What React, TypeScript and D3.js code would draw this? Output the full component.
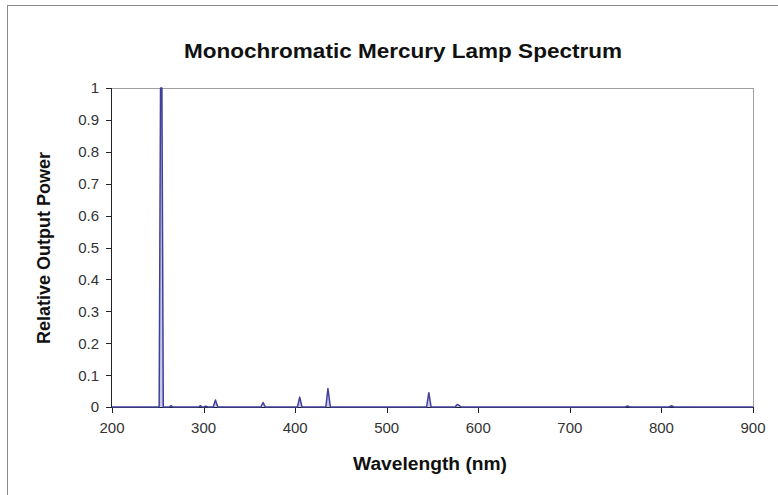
import React, { useMemo } from 'react';
import * as d3 from 'd3';

// Spectrum samples (nm, relative power)
const wavelengths = [
  200, 251.5, 253, 254.5, 256, 262.5, 264.5, 266.5, 294.5, 296.5, 298.5, 300.5, 302.5, 304.5,
  310.5, 313, 315.5, 362.5, 365, 367.5, 402.5, 405, 407.5, 433.5, 435.8, 438.5,
  543.5, 546, 548.5, 574.5, 577, 579, 581.5, 760.5, 763, 765.5, 808.5, 811, 813.5, 900,
];
const power = [
  0, 0, 1, 1, 0, 0, 0.004, 0, 0, 0.004, 0, 0, 0.003, 0,
  0, 0.022, 0, 0, 0.014, 0, 0, 0.031, 0, 0, 0.058, 0,
  0, 0.045, 0, 0, 0.008, 0.005, 0, 0, 0.003, 0, 0, 0.004, 0, 0,
];

const xTicks = [200, 300, 400, 500, 600, 700, 800, 900];
const yTicks = [0, 0.1, 0.2, 0.3, 0.4, 0.5, 0.6, 0.7, 0.8, 0.9, 1];

const title = 'Monochromatic Mercury Lamp Spectrum';
const xLabel = 'Wavelength (nm)';
const yLabel = 'Relative Output Power';

const W = 778;
const H = 495;
const plot = { left: 112, right: 753, top: 88, bottom: 407 };
const font = '"Liberation Sans", Arial, sans-serif';

const App: React.FC = () => {
  const x = d3.scaleLinear().domain([200, 900]).range([plot.left, plot.right]);
  const y = d3.scaleLinear().domain([0, 1]).range([plot.bottom, plot.top]);

  const path = useMemo(() => {
    const pts = wavelengths.map((w, i) => [w, power[i]] as [number, number]);
    return d3.line<[number, number]>()
      .x(d => x(d[0]))
      .y(d => y(d[1]))(pts) || undefined;
  }, []);

  return (
    <div style={{ position: 'absolute', left: 0, top: 0 }}>
      <svg width={W} height={H} style={{ display: 'block', background: '#fff' }}>
        {/* outer frame */}
        <rect x={7.5} y={5.5} width={900} height={700} fill="none" stroke="#8a8a8a" strokeWidth={1} />

        <text x={403} y={58} textAnchor="middle" fontFamily={font} fontWeight="bold" fontSize={21}
          textLength={438} lengthAdjust="spacingAndGlyphs" fill="#111">
          {title}
        </text>

        {/* plot frame top / right */}
        <line x1={plot.left} x2={plot.right} y1={plot.top + 0.5} y2={plot.top + 0.5} stroke="#a0a0a0" />
        <line x1={plot.right + 0.5} x2={plot.right + 0.5} y1={plot.top} y2={plot.bottom} stroke="#a0a0a0" />

        {/* y axis */}
        <line x1={plot.left - 0.5} x2={plot.left - 0.5} y1={plot.top} y2={plot.bottom} stroke="#222" />
        {yTicks.map(t => (
          <g key={t}>
            <line x1={plot.left - 6} x2={plot.left} y1={Math.round(y(t)) + 0.5} y2={Math.round(y(t)) + 0.5} stroke="#222" />
            <text x={plot.left - 13} y={y(t)} dy="0.36em" textAnchor="end" fontFamily={font} fontSize={15} fill="#333">
              {t}
            </text>
          </g>
        ))}

        {/* x axis */}
        <line x1={plot.left} x2={plot.right} y1={plot.bottom + 0.5} y2={plot.bottom + 0.5} stroke="#222" />
        {xTicks.map(t => (
          <g key={t}>
            <line x1={Math.round(x(t)) + 0.5} x2={Math.round(x(t)) + 0.5} y1={plot.bottom} y2={plot.bottom + 6} stroke="#222" />
            <text x={x(t)} y={plot.bottom + 26} textAnchor="middle" fontFamily={font} fontSize={15} fill="#333">
              {t}
            </text>
          </g>
        ))}

        <path d={path} fill="#c8c8e8" stroke="#40409c" strokeWidth={1.5} strokeLinejoin="round" />

        <text x={430} y={470} textAnchor="middle" fontFamily={font} fontWeight="bold" fontSize={18}
          textLength={154} lengthAdjust="spacingAndGlyphs" fill="#111">
          {xLabel}
        </text>
        <text
          transform={`translate(50, 248) rotate(-90)`}
          textAnchor="middle"
          fontFamily={font}
          fontWeight="bold"
          fontSize={18}
          fill="#111"
        >
          {yLabel}
        </text>
      </svg>
    </div>
  );
};

export default App;
